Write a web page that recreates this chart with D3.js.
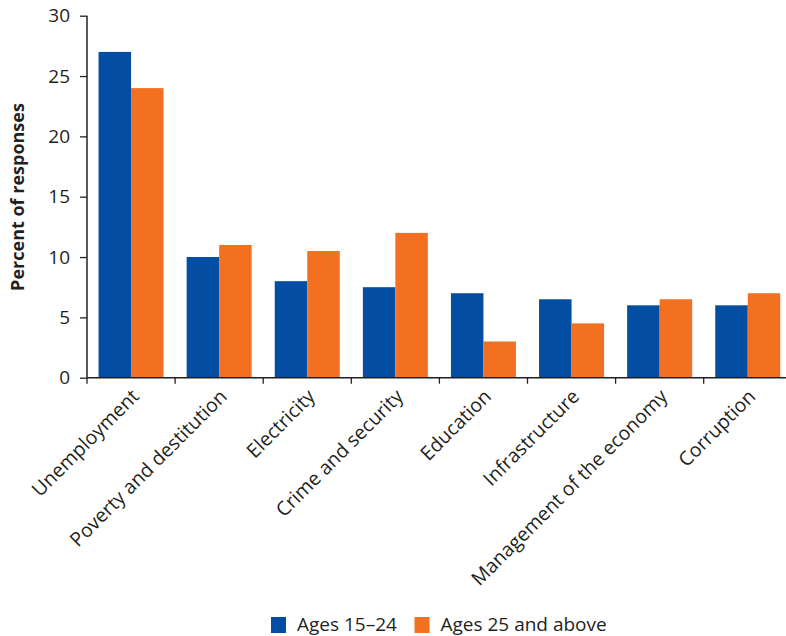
<!DOCTYPE html>
<html>
<head>
<meta charset="utf-8">
<script src="https://cdn.jsdelivr.net/npm/d3@7"></script>
<style>
  html, body { margin: 0; padding: 0; background: #fff; }
  svg { display: block; }
  text { font-family: "Open Sans", "Noto Sans", sans-serif; fill: #231f20; }
</style>
</head>
<body>
<svg id="chart" width="786" height="636"></svg>
<script>
// Most important problems, by age group (percent of responses)
const categories = ["Unemployment", "Poverty and destitution", "Electricity", "Crime and security",
                    "Education", "Infrastructure", "Management of the economy", "Corruption"];
const seriesNames = ["Ages 15\u201324", "Ages 25 and above"];
const youngValues = [27, 10, 8, 7.5, 7, 6.5, 6, 6];
const olderValues = [24, 11, 10.5, 12, 3, 4.5, 6.5, 7];
const yTicks = [0, 5, 10, 15, 20, 25, 30];
const colors = ["#034ea2", "#f37021"];

const svg = d3.select("#chart");
const plotLeft = 87, plotTop = 15.7, plotBottom = 377.7, step = 88.1;
const ink = "#231f20";

const x = d3.scaleBand().domain(categories)
  .range([plotLeft, plotLeft + step * categories.length]).paddingInner(0).paddingOuter(0);
const xSub = d3.scaleBand().domain([0, 1]).range([0, x.bandwidth()])
  .paddingInner(0).paddingOuter(0.355);
const y = d3.scaleLinear().domain([0, 30]).range([plotBottom, plotTop]);

const rows = categories.map((c, i) => ({ c, vals: [youngValues[i], olderValues[i]] }));

// bars
const groups = svg.append("g").selectAll("g").data(rows).join("g")
  .attr("transform", d => `translate(${x(d.c)},0)`);
groups.selectAll("rect").data(d => d.vals.map((v, k) => ({ v, k }))).join("rect")
  .attr("x", d => xSub(d.k))
  .attr("width", xSub.bandwidth())
  .attr("y", d => y(d.v))
  .attr("height", d => y(0) - y(d.v))
  .attr("fill", d => colors[d.k]);

// y axis
const yAxis = svg.append("g").attr("transform", `translate(${plotLeft},0)`)
  .call(d3.axisLeft(y).tickValues(yTicks).tickSize(7).tickPadding(10).tickFormat(d3.format("d")));
yAxis.select(".domain").attr("stroke", ink).attr("stroke-width", 1.5).attr("d", `M0,${plotTop}V${plotBottom}`);
yAxis.selectAll(".tick line").attr("stroke", ink).attr("stroke-width", 1.3);
yAxis.selectAll(".tick text").attr("font-size", 19).attr("fill", ink)
  .style("font-family", "'Open Sans', sans-serif");

// x axis: line to the right edge, ticks at band boundaries
svg.append("line").attr("x1", plotLeft).attr("x2", 786).attr("y1", plotBottom).attr("y2", plotBottom)
  .attr("stroke", ink).attr("stroke-width", 1.5);
const boundaries = d3.range(categories.length + 1).map(i => plotLeft + i * x.step());
svg.append("g").selectAll("line").data(boundaries).join("line")
  .attr("x1", d => d).attr("x2", d => d).attr("y1", plotBottom).attr("y2", plotBottom + 6)
  .attr("stroke", ink).attr("stroke-width", 1.3);

// category labels, rotated
svg.append("g").selectAll("text").data(categories).join("text")
  .attr("transform", d => `translate(${x(d) + x.bandwidth() / 2 + 9},${plotBottom + 20}) rotate(-45)`)
  .attr("text-anchor", "end")
  .attr("font-size", 19.5)
  .text(d => d);

// y axis title
svg.append("text")
  .attr("transform", `translate(24,197) rotate(-90)`)
  .attr("text-anchor", "middle")
  .attr("font-size", 18)
  .attr("font-weight", "bold")
  .text("Percent of responses");

// legend
const legendPos = [271, 414.5];
const legend = svg.append("g").selectAll("g").data(seriesNames).join("g")
  .attr("transform", (d, i) => `translate(${legendPos[i]},617)`);
legend.append("rect").attr("width", 15).attr("height", 16).attr("fill", (d, i) => colors[i]);
legend.append("text").attr("x", 26).attr("y", 14).attr("font-size", 19).text(d => d);
</script>
</body>
</html>
